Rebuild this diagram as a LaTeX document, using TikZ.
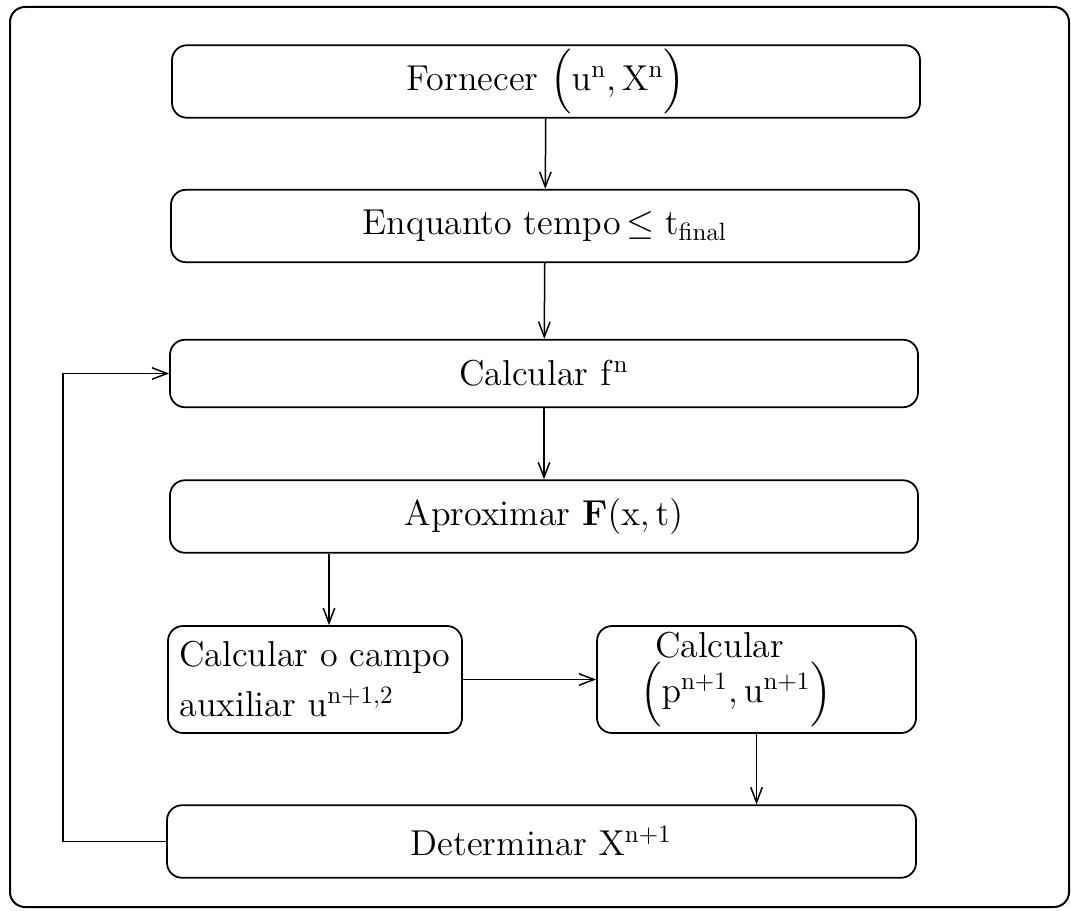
\documentclass[tikz,border=0pt]{standalone}
\usepackage{amsmath}
\usepackage{tikz}
\usetikzlibrary{positioning,arrows.meta}

\begin{document}
\begin{tikzpicture}[
    x=0.4pt, y=-0.4pt,
    block/.style={
      draw, line width=0.7pt, rounded corners=6pt, text centered,
      font=\fontsize{14.4pt}{18pt}\selectfont,
      minimum height=29pt, inner sep=0pt
    },
    full/.style={block, minimum width=299.2pt},
    half/.style={block, minimum height=42.8pt},
    flow/.style={line width=0.6pt, -{Straight Barb[length=6pt,width=4.6pt]}},
  ]
    \useasboundingbox (0,0) rectangle (1071,911);
    \draw[line width=0.8pt, rounded corners=6pt] (10,7) rectangle (1069,907);

    \node[full](fornecer) at (546, 81.5)
      {Fornecer $\Big(\mathrm{u}^{\mathrm{n}},\mathrm{X}^{\mathrm{n}}\Big)$};
    \node[full](enquanto) at (545, 226)
      {Enquanto tempo$\,\leq \mathrm{t}_{\mathrm{final}}$};
    \node[full, minimum height=27pt](calcf) at (544, 373.5)
      {Calcular $\mathrm{f}^{\mathrm{n}}$};
    \node[full](aprox) at (544, 516.5)
      {Aproximar $\mathbf{F}(\mathrm{x},\mathrm{t})$};

    \node[half, minimum width=117.6pt, align=left](campo) at (315, 679.5){
      Calcular o campo\\[2pt]
      auxiliar $\mathrm{u}^{\mathrm{n+1,2}}$
    };
    \node[half, minimum width=127.6pt, text width=93.2pt, align=left,
      inner xsep=17.2pt, inner ysep=2.5pt](calcp) at (756.5, 679.5){
      \hspace*{6pt}Calcular\\[0pt]
      $\Big(\mathrm{p}^{\mathrm{n+1}},\mathrm{u}^{\mathrm{n+1}}\Big)$
    };

    \node[full, minimum width=299.6pt](determ) at (541.5, 841.5)
      {Determinar $\mathrm{X}^{\mathrm{n+1}}$};

    \draw[flow] (fornecer) -- (enquanto);
    \draw[flow] (enquanto) -- (calcf);
    \draw[flow] (calcf) -- (aprox);
    \draw[flow] ([xshift=5.6pt]aprox.south -| campo.north) -- ([xshift=5.6pt]campo.north);
    \draw[flow] (campo) -- (calcp);
    \draw[flow] (calcp.south) -- (calcp.south |- determ.north);
    \draw[flow] (determ.west) -- ++(-41.2pt,0) |- (calcf.west);

  \end{tikzpicture}
\end{document}
